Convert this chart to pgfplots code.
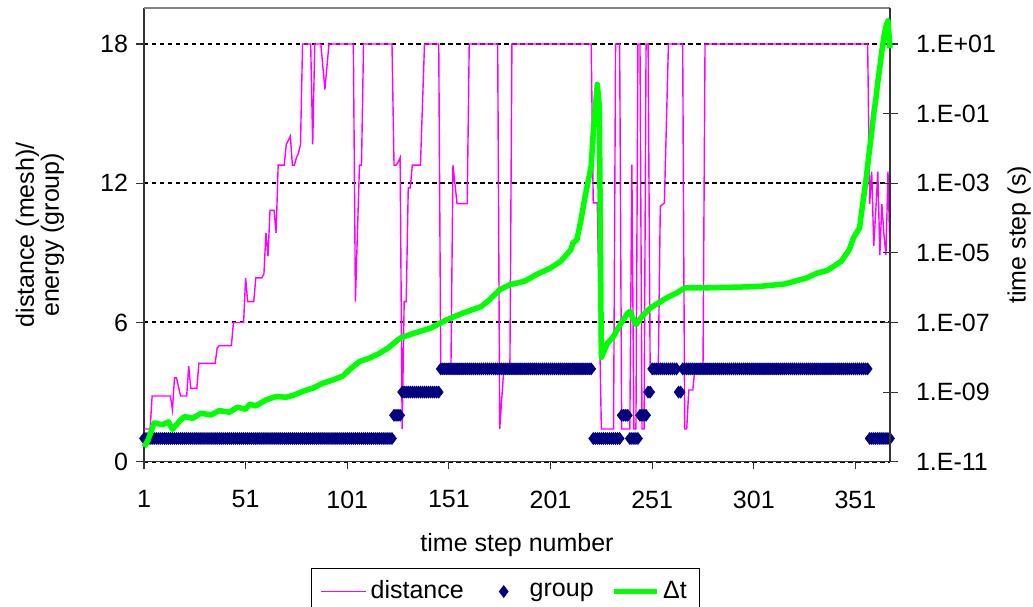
\documentclass[border=0pt]{standalone}
\usepackage{fontspec}
\setmainfont{Liberation Sans}
\usepackage{pgfplots}
\pgfplotsset{compat=1.18}
\definecolor{distmag}{HTML}{FF00FF}
\definecolor{grpnavy}{HTML}{000080}
\definecolor{dtgreen}{HTML}{00FF00}
\definecolor{axdark}{HTML}{333333}
\pgfplotsset{
  long line legend/.style={legend image code/.code={\draw[##1] (0bp,0bp) -- (#1,0bp);}},
  wide mark legend/.style={legend image code/.code={%
    \path[draw=none, fill=none] (0bp,0bp) (45bp,0bp);
    \draw[##1] plot coordinates {(22.5bp,0bp)};}},
}
\begin{document}
\fontsize{25bp}{30bp}\selectfont
\begin{tikzpicture}
\useasboundingbox (-144bp,-145.3bp) rectangle (889bp,461.7bp);
% left axis: mesh distance and energy group
\begin{axis}[
  scale only axis, width=746bp, height=453.7bp,
  xmin=1, xmax=368, ymin=0, ymax=19.55,
  axis x line*=bottom, axis y line*=left,
  axis line style={axdark, line width=1.3bp},
  xtick={1,51,101,151,201,251,301,351},
  ytick={0,6,12,18},
  tick align=outside,
  major tick length=7.5bp,
  tick style={axdark, line width=1.1bp},
  ymajorgrids,
  major grid style={black, dash pattern=on 4.5bp off 3.5bp, line width=2bp},
  /pgf/number format/assume math mode=true,
  xticklabel style={yshift=-13bp},
  xlabel={time step number},
  ylabel={distance (mesh)/\\[-5bp]energy (group)},
  ylabel style={align=center, at={(axis description cs:-0.1395,0.5)}, anchor=center},
  xlabel style={at={(axis description cs:0.5,-0.199)}, anchor=base},
  clip=false,
]
\addplot[distmag, line width=1.4bp] coordinates {
(1,1.41) (4,1.41) (5,2.83) (14,2.83) (15,2.24) (16,3.61) (17,3.61) (19,2.83)
(22,2.83) (23,4.12) (24,3.16) (27,3.16) (28,4.24) (36,4.24) (37,4.9) (38,5)
(44,5) (45,6) (50,6) (51,7.92) (52,6.9) (55,6.9) (56,7.92) (59,7.92) (60,8.1)
(61,9.86) (62,8.85) (63,10.83) (65,10.83) (66,9.86) (67,12.78) (70,12.78)
(71,13.67) (73,14.03) (74,12.78) (75,12.78) (76,13.1) (77,13.3) (78,13.67)
(79,18) (83,18) (84,13.67) (85,18) (88,18) (90,16.04) (92,18) (104,18)
(105,6.9) (107,12.78) (108,12.78) (109,18) (123,18) (124,12.78) (125,12.78)
(126,12.9) (127,13.1) (128,1.41) (129,6.9) (130,6.9) (131,11.8) (132,11.8)
(133,12.78) (137,12.78) (139,18) (146,18) (147,4) (152,4) (153,12.78)
(155,11.12) (160,11.12) (161,18) (175,18) (176,1.41) (178,4) (181,4) (182,18)
(221,18) (222,11.15) (224,11.15) (226,1.41) (232,1.41) (233,18) (235,18)
(236,1.41) (240,1.41) (241,12.8) (242,1.41) (243,1.41) (244,18) (245,18)
(246,1.41) (247,1.41) (248,18) (249,18) (250,4) (254,4) (255,11) (257,11.15)
(259,18) (266,18) (267,1.41) (268,1.41) (269,3.09) (271,3.09) (272,4) (276,4)
(277,18) (357,18) (358,11.1) (359,12.5) (360,9.3) (361,10.8) (362,12.5)
(363,8.9) (364,11.1) (365,9.8) (366,8.9) (367,12.5) (368,8.9)
};
\addplot[only marks, mark=diamond*, mark size=6bp, grpnavy, mark options={fill=grpnavy, line width=0.6bp}] coordinates {
(1,1) (2,1) (3,1) (4,1) (5,1) (6,1) (7,1) (8,1) (9,1) (10,1)
(11,1) (12,1) (13,1) (14,1) (15,1) (16,1) (17,1) (18,1) (19,1) (20,1)
(21,1) (22,1) (23,1) (24,1) (25,1) (26,1) (27,1) (28,1) (29,1) (30,1)
(31,1) (32,1) (33,1) (34,1) (35,1) (36,1) (37,1) (38,1) (39,1) (40,1)
(41,1) (42,1) (43,1) (44,1) (45,1) (46,1) (47,1) (48,1) (49,1) (50,1)
(51,1) (52,1) (53,1) (54,1) (55,1) (56,1) (57,1) (58,1) (59,1) (60,1)
(61,1) (62,1) (63,1) (64,1) (65,1) (66,1) (67,1) (68,1) (69,1) (70,1)
(71,1) (72,1) (73,1) (74,1) (75,1) (76,1) (77,1) (78,1) (79,1) (80,1)
(81,1) (82,1) (83,1) (84,1) (85,1) (86,1) (87,1) (88,1) (89,1) (90,1)
(91,1) (92,1) (93,1) (94,1) (95,1) (96,1) (97,1) (98,1) (99,1) (100,1)
(101,1) (102,1) (103,1) (104,1) (105,1) (106,1) (107,1) (108,1) (109,1) (110,1)
(111,1) (112,1) (113,1) (114,1) (115,1) (116,1) (117,1) (118,1) (119,1) (120,1)
(121,1) (122,1) (123,1) (124,2) (125,2) (126,2) (127,2) (128,3) (129,3) (130,3)
(131,3) (132,3) (133,3) (134,3) (135,3) (136,3) (137,3) (138,3) (139,3) (140,3)
(141,3) (142,3) (143,3) (144,3) (145,3) (146,3) (147,4) (148,4) (149,4) (150,4)
(151,4) (152,4) (153,4) (154,4) (155,4) (156,4) (157,4) (158,4) (159,4) (160,4)
(161,4) (162,4) (163,4) (164,4) (165,4) (166,4) (167,4) (168,4) (169,4) (170,4)
(171,4) (172,4) (173,4) (174,4) (175,4) (176,4) (177,4) (178,4) (179,4) (180,4)
(181,4) (182,4) (183,4) (184,4) (185,4) (186,4) (187,4) (188,4) (189,4) (190,4)
(191,4) (192,4) (193,4) (194,4) (195,4) (196,4) (197,4) (198,4) (199,4) (200,4)
(201,4) (202,4) (203,4) (204,4) (205,4) (206,4) (207,4) (208,4) (209,4) (210,4)
(211,4) (212,4) (213,4) (214,4) (215,4) (216,4) (217,4) (218,4) (219,4) (220,4)
(221,4) (222,1) (223,1) (224,1) (225,1) (226,1) (227,1) (228,1) (229,1) (230,1)
(231,1) (232,1) (233,1) (234,1) (235,1) (236,2) (237,2) (238,2) (239,2) (240,1)
(241,1) (242,1) (243,1) (244,1) (245,2) (246,2) (247,2) (248,2) (249,3) (250,3)
(251,4) (252,4) (253,4) (254,4) (255,4) (256,4) (257,4) (258,4) (259,4) (260,4)
(261,4) (262,4) (263,4) (264,3) (265,3) (266,4) (267,4) (268,4) (269,4) (270,4)
(271,4) (272,4) (273,4) (274,4) (275,4) (276,4) (277,4) (278,4) (279,4) (280,4)
(281,4) (282,4) (283,4) (284,4) (285,4) (286,4) (287,4) (288,4) (289,4) (290,4)
(291,4) (292,4) (293,4) (294,4) (295,4) (296,4) (297,4) (298,4) (299,4) (300,4)
(301,4) (302,4) (303,4) (304,4) (305,4) (306,4) (307,4) (308,4) (309,4) (310,4)
(311,4) (312,4) (313,4) (314,4) (315,4) (316,4) (317,4) (318,4) (319,4) (320,4)
(321,4) (322,4) (323,4) (324,4) (325,4) (326,4) (327,4) (328,4) (329,4) (330,4)
(331,4) (332,4) (333,4) (334,4) (335,4) (336,4) (337,4) (338,4) (339,4) (340,4)
(341,4) (342,4) (343,4) (344,4) (345,4) (346,4) (347,4) (348,4) (349,4) (350,4)
(351,4) (352,4) (353,4) (354,4) (355,4) (356,4) (357,4) (358,1) (359,1) (360,1)
(361,1) (362,1) (363,1) (364,1) (365,1) (366,1) (367,1) (368,1)
};
\draw[black!50, line width=1.3bp] (rel axis cs:0,1) -- (rel axis cs:1,1);
\end{axis}
% right axis: time step size on a log scale
\begin{axis}[
  scale only axis, width=746bp, height=453.7bp,
  xmin=1, xmax=368, ymode=log, ymin=1e-11, ymax=107.97,
  axis x line=none, axis y line*=right,
  axis line style={axdark, line width=1.3bp},
  ytick={1e-11,1e-9,1e-7,1e-5,1e-3,1e-1,1e1},
  yticklabels={1.E-11,1.E-09,1.E-07,1.E-05,1.E-03,1.E-01,1.E+01},
  yticklabel style={xshift=10bp},
  yminorticks=false,
  tick align=center, major tick length=15bp,
  tick style={axdark, line width=1.1bp},
  ylabel={time step (s)},
  ylabel style={at={(axis description cs:1.173,0.5)}, anchor=center},
  legend columns=3,
  legend style={at={(axis description cs:0.4846,-0.2345)}, anchor=north,
    draw=black, line width=1bp, inner xsep=9bp, inner ysep=7bp,
    nodes={inner xsep=3.5bp, inner ysep=5bp},
    /tikz/every even column/.append style={column sep=14bp}},
  clip=false,
]
\addlegendimage{distmag, line width=1.4bp, long line legend=45bp}
\addlegendentry{distance}
\addlegendimage{mark=diamond*, mark size=6bp, grpnavy, mark options={fill=grpnavy, line width=0.6bp}, wide mark legend}
\addlegendentry{group}
\addplot[dtgreen, line width=5.5bp, line join=round, long line legend=43bp] coordinates {
(1,2.65e-11) (3,4.2e-11) (6,1.3e-10) (10,1.15e-10) (13,1.4e-10) (15,8.5e-11)
(19,1.58e-10) (21,1.97e-10) (25,1.77e-10) (29,2.47e-10) (34,2.21e-10)
(38,2.94e-10) (43,2.64e-10) (47,3.67e-10) (51,3.22e-10) (53,4.49e-10)
(56,4.01e-10) (61,5.97e-10) (66,7.43e-10) (71,7.13e-10) (75,8.3e-10)
(80,1.1e-9) (84,1.29e-9) (89,1.8e-9) (94,2.24e-9) (99,2.92e-9) (102,4.36e-9)
(107,7.55e-9) (112,9.46e-9) (117,1.32e-8) (121,1.83e-8) (127,3.56e-8)
(134,4.95e-8) (142,6.9e-8) (150,1.2e-7) (158,1.87e-7) (167,2.88e-7)
(171,4.5e-7) (176,8.73e-7) (181,1.22e-6) (188,1.51e-6) (194,2.36e-6)
(201,3.67e-6) (206,5.69e-6) (211,1.24e-5) (212,1.9e-5) (214,2.4e-5)
(216,9.0e-5) (218,4.2e-4) (221,3.1e-3) (222,2.8e-2) (224,0.69) (225,0.164)
(226,1.0e-8) (229,2.55e-8) (232,3.95e-8) (235,8.3e-8) (239,1.86e-7)
(240,2.07e-7) (243,8.6e-8) (246,1.49e-7) (250,2.59e-7) (254,3.61e-7)
(258,5.04e-7) (263,7.01e-7) (267,9.77e-7) (275,9.8e-7) (297,1.05e-6)
(304,1.09e-6) (316,1.27e-6) (327,1.9e-6) (332,2.61e-6) (337,3.08e-6)
(344,5.69e-6) (348,1.24e-5) (350,2.69e-5) (353,5.2e-5) (355,3.9e-4)
(356,1.0e-3) (357,3.2e-3) (358,1.0e-2) (359,3.0e-2) (360,0.1) (361,0.25)
(362,0.8) (363,2.2) (364,6.3) (365,16) (366,32) (367,46) (368,7.5)
};
\addlegendentry{Δt}
\end{axis}
\end{tikzpicture}
\end{document}
